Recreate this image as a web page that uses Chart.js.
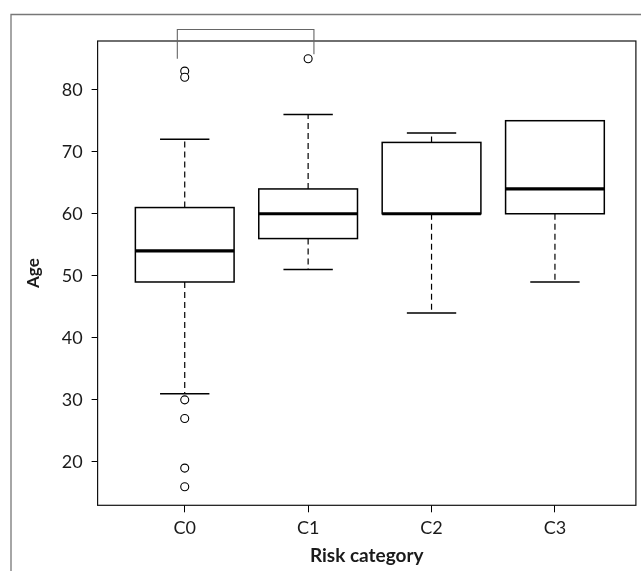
<!DOCTYPE html>
<html>
<head>
<meta charset="utf-8">
<script src="https://cdn.jsdelivr.net/npm/chart.js@4.4.1/dist/chart.umd.min.js"></script>
<style>
  html, body { margin: 0; padding: 0; background: #fff; }
  #wrap { position: relative; width: 641px; height: 571px; }
</style>
</head>
<body>
<div id="wrap"><canvas id="chart" width="641" height="571"></canvas></div>
<script>
const categories = ['C0', 'C1', 'C2', 'C3'];
const whiskerLow = [31, 51, 44, 49];
const boxLow = [49, 56, 60, 60];
const medians = [54, 60, 60, 64];
const boxHigh = [61, 64, 71.5, 75];
const whiskerHigh = [72, 76, 73, 75];
const outliers = [[83, 82, 30, 27, 19, 16], [85], [], []];
const yTicks = [20, 30, 40, 50, 60, 70, 80];
// significance bracket between C0 and C1 (values on the Age axis)
const bracketCats = [0, 1];
const bracketAge = { top: 89.7, left: 85, right: 85.7 };

const BOX_W = 0.8;
const CAP_W = 0.4;

const outlierPoints = [];
outliers.forEach((list, i) => list.forEach((v) => outlierPoints.push({ x: i, y: v })));

const boxPlugin = {
  id: 'boxPlot',
  beforeDraw(chart) {
    const { ctx } = chart;
    ctx.save();
    ctx.fillStyle = '#fff';
    ctx.fillRect(0, 0, chart.width, chart.height);
    // outer figure frame
    ctx.strokeStyle = '#777';
    ctx.lineWidth = 1.3;
    ctx.beginPath();
    ctx.moveTo(11, chart.height);
    ctx.lineTo(11, 14.5);
    ctx.lineTo(chart.width, 14.5);
    ctx.stroke();
    ctx.restore();
  },
  beforeDatasetsDraw(chart) {
    const { ctx, chartArea } = chart;
    const x = chart.scales.x;
    const y = chart.scales.y;
    const unit = x.getPixelForValue(1) - x.getPixelForValue(0);
    ctx.save();
    categories.forEach((c, i) => {
      const cx = x.getPixelForValue(i);
      const half = unit * BOX_W / 2;
      const cap = unit * CAP_W / 2;
      const yLo = y.getPixelForValue(whiskerLow[i]);
      const yQ1 = y.getPixelForValue(boxLow[i]);
      const yMed = y.getPixelForValue(medians[i]);
      const yQ3 = y.getPixelForValue(boxHigh[i]);
      const yHi = y.getPixelForValue(whiskerHigh[i]);
      ctx.strokeStyle = '#000';
      // whiskers
      ctx.lineWidth = 1.2;
      ctx.setLineDash([6, 4]);
      ctx.beginPath();
      if (yLo > yQ1) { ctx.moveTo(cx, yQ1); ctx.lineTo(cx, yLo); }
      if (yHi < yQ3) { ctx.moveTo(cx, yQ3); ctx.lineTo(cx, yHi); }
      ctx.stroke();
      ctx.setLineDash([]);
      ctx.lineWidth = 1.5;
      ctx.beginPath();
      if (yLo > yQ1) { ctx.moveTo(cx - cap, yLo); ctx.lineTo(cx + cap, yLo); }
      if (yHi < yQ3) { ctx.moveTo(cx - cap, yHi); ctx.lineTo(cx + cap, yHi); }
      ctx.stroke();
      // box
      ctx.lineWidth = 1.5;
      ctx.strokeRect(cx - half, yQ3, half * 2, yQ1 - yQ3);
      // median
      ctx.lineWidth = 3.2;
      ctx.beginPath();
      ctx.moveTo(cx - half, yMed);
      ctx.lineTo(cx + half, yMed);
      ctx.stroke();
    });
    // plot frame
    ctx.lineWidth = 1.2;
    ctx.strokeStyle = '#111';
    ctx.strokeRect(chartArea.left, chartArea.top, chartArea.right - chartArea.left, chartArea.bottom - chartArea.top);
    ctx.restore();
  },
  afterDraw(chart) {
    const { ctx } = chart;
    const x = chart.scales.x;
    const y = chart.scales.y;
    const unit = x.getPixelForValue(1) - x.getPixelForValue(0);
    const x1 = x.getPixelForValue(bracketCats[0]) - unit * 0.06;
    const x2 = x.getPixelForValue(bracketCats[1]) + unit * 0.047;
    ctx.save();
    ctx.strokeStyle = '#666';
    ctx.lineWidth = 1.1;
    ctx.beginPath();
    ctx.moveTo(x1, y.getPixelForValue(bracketAge.left));
    ctx.lineTo(x1, y.getPixelForValue(bracketAge.top));
    ctx.lineTo(x2, y.getPixelForValue(bracketAge.top));
    ctx.lineTo(x2, y.getPixelForValue(bracketAge.right));
    ctx.stroke();
    ctx.restore();
  },
};

new Chart(document.getElementById('chart').getContext('2d'), {
  type: 'scatter',
  data: {
    datasets: [
      {
        label: 'Outliers',
        data: outlierPoints,
        pointRadius: 4,
        pointBorderWidth: 1.1,
        pointBorderColor: '#000',
        pointBackgroundColor: '#fff',
      },
    ],
  },
  options: {
    responsive: false,
    animation: false,
    devicePixelRatio: 1,
    layout: { padding: { top: 41, right: 1.2, left: 0, bottom: 0 } },
    plugins: {
      legend: { display: false },
      tooltip: { enabled: false },
    },
    scales: {
      x: {
        type: 'linear',
        min: -0.706,
        max: 3.656,
        afterBuildTicks(scale) {
          scale.ticks = categories.map((c, i) => ({ value: i }));
        },
        afterFit(scale) {
          scale.height = 65.7;
        },
        border: { display: false },
        grid: { drawOnChartArea: false, drawTicks: true, tickLength: 7, color: '#000', lineWidth: 1 },
        ticks: {
          autoSkip: false,
          padding: 5.5,
          color: '#1a1a1a',
          font: { family: 'Lato', size: 18 },
          callback: (v) => categories[v],
        },
        title: {
          display: true,
          text: 'Risk category',
          color: '#1a1a1a',
          font: { family: 'Lato', size: 19, weight: 'bold' },
          padding: { top: 0, bottom: 3.6 },
        },
      },
      y: {
        type: 'linear',
        min: 13.0,
        max: 87.85,
        afterBuildTicks(scale) {
          scale.ticks = yTicks.map((v) => ({ value: v }));
        },
        afterFit(scale) {
          scale.width = 97.6;
        },
        border: { display: false },
        grid: { drawOnChartArea: false, drawTicks: true, tickLength: 6, color: '#000', lineWidth: 1 },
        ticks: {
          padding: 9,
          color: '#1a1a1a',
          font: { family: 'Lato', size: 18 },
        },
        title: {
          display: true,
          text: 'Age',
          color: '#1a1a1a',
          font: { family: 'Lato', size: 17, weight: 'bold' },
          padding: { top: 23, bottom: 0 },
        },
      },
    },
  },
  plugins: [boxPlugin],
});
</script>
</body>
</html>
